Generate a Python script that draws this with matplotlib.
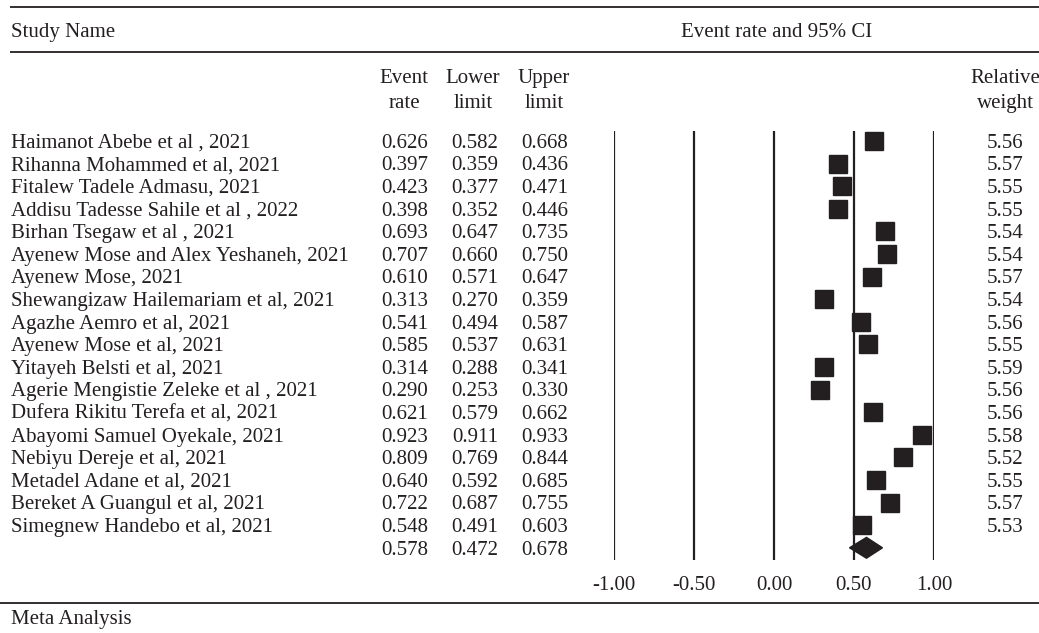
import matplotlib
matplotlib.use("Agg")
import matplotlib.pyplot as plt
import matplotlib.transforms as mtransforms

# data
studies = [
    "Haimanot Abebe et al , 2021",
    "Rihanna Mohammed et al, 2021",
    "Fitalew Tadele Admasu, 2021",
    "Addisu Tadesse Sahile et al , 2022",
    "Birhan Tsegaw et al , 2021",
    "Ayenew Mose and Alex Yeshaneh, 2021",
    "Ayenew Mose, 2021",
    "Shewangizaw Hailemariam et al, 2021",
    "Agazhe Aemro et al, 2021",
    "Ayenew Mose et al, 2021",
    "Yitayeh Belsti et al, 2021",
    "Agerie Mengistie Zeleke et al , 2021",
    "Dufera Rikitu Terefa et al, 2021",
    "Abayomi Samuel Oyekale, 2021",
    "Nebiyu Dereje et al, 2021",
    "Metadel Adane et al, 2021",
    "Bereket A Guangul et al, 2021",
    "Simegnew Handebo et al, 2021",
]
event_rate = [0.626, 0.397, 0.423, 0.398, 0.693, 0.707, 0.610, 0.313, 0.541,
              0.585, 0.314, 0.290, 0.621, 0.923, 0.809, 0.640, 0.722, 0.548]
lower = [0.582, 0.359, 0.377, 0.352, 0.647, 0.660, 0.571, 0.270, 0.494,
         0.537, 0.288, 0.253, 0.579, 0.911, 0.769, 0.592, 0.687, 0.491]
upper = [0.668, 0.436, 0.471, 0.446, 0.735, 0.750, 0.647, 0.359, 0.587,
         0.631, 0.341, 0.330, 0.662, 0.933, 0.844, 0.685, 0.755, 0.603]
weight = [5.56, 5.57, 5.55, 5.55, 5.54, 5.54, 5.57, 5.54, 5.56,
          5.55, 5.59, 5.56, 5.56, 5.58, 5.52, 5.55, 5.57, 5.53]
pooled = (0.578, 0.472, 0.678)
xticks = [-1.0, -0.5, 0.0, 0.5, 1.0]

INK = "#231f20"
W, H = 1039, 633
FS = 15
plt.rcParams["font.family"] = ["Liberation Serif", "DejaVu Serif"]
plt.rcParams["font.size"] = FS
plt.rcParams["text.color"] = INK

fig = plt.figure(figsize=(W / 100, H / 100), dpi=100)

# layout axes in pixel units (whole figure)
lay = fig.add_axes([0, 0, 1, 1])
lay.set_xlim(0, W)
lay.set_ylim(H, 0)
lay.axis("off")

# forest axes
top_px, bot_px, left_px, right_px = 131, 560, 614, 934
row0, step = 141, 22.6
ax = fig.add_axes([left_px / W, 1 - bot_px / H, (right_px - left_px) / W, (bot_px - top_px) / H])
ax.set_xlim(-1, 1)
ax.set_ylim((bot_px - row0) / step, (top_px - row0) / step)
for s in ax.spines.values():
    s.set_visible(False)
ax.set_yticks([])
ax.set_xticks(xticks)
ax.set_xticklabels([f"{t:.2f}" for t in xticks])
ax.tick_params(axis="x", length=0, pad=11.5, labelsize=FS, labelcolor=INK)
ax.patch.set_alpha(0)

for t in xticks:
    ax.axvline(t, color=INK, lw=1.6, zorder=1)

rows = list(range(len(studies)))
ax.hlines(rows, lower, upper, color=INK, lw=1.0, zorder=2)
ax.plot(event_rate, rows, "s", color=INK, markersize=12.3, zorder=3, clip_on=False)

# pooled diamond
ps, pl, pu = pooled
yr = len(studies)
dh = 0.46
ax.fill([pl, ps, pu, ps], [yr, yr - dh, yr, yr + dh], color=INK, zorder=3, clip_on=False)

# text columns: x in pixels, y in row units
base = mtransforms.blended_transform_factory(lay.transData, ax.transData)
tr = base + mtransforms.ScaledTranslation(0, -6.8 / 100, fig.dpi_scale_trans)

for i, name in enumerate(studies):
    lay.text(11, i, name, transform=tr, ha="left", va="baseline")
    lay.text(428, i, f"{event_rate[i]:.3f}", transform=tr, ha="right", va="baseline")
    lay.text(498, i, f"{lower[i]:.3f}", transform=tr, ha="right", va="baseline")
    lay.text(568, i, f"{upper[i]:.3f}", transform=tr, ha="right", va="baseline")
    lay.text(1023, i, f"{weight[i]:.2f}", transform=tr, ha="right", va="baseline")
lay.text(428, yr, f"{ps:.3f}", transform=tr, ha="right", va="baseline")
lay.text(498, yr, f"{pl:.3f}", transform=tr, ha="right", va="baseline")
lay.text(568, yr, f"{pu:.3f}", transform=tr, ha="right", va="baseline")

# headers
lay.hlines([7, 52, 603], [10, 10, 0], W, color=INK, lw=1.3)
lay.text(11, 37, "Study Name", ha="left", va="baseline")
lay.text(777, 37, "Event rate and 95% CI", ha="center", va="baseline")
for x, a, b in [(404, "Event", "rate"), (473, "Lower", "limit"), (544, "Upper", "limit"),
                (1005, "Relative", "weight")]:
    lay.text(x, 83, a, ha="center", va="baseline")
    lay.text(x, 108, b, ha="center", va="baseline")
lay.text(11, 624, "Meta Analysis", ha="left", va="baseline")

fig.savefig("out.png", dpi=100)
